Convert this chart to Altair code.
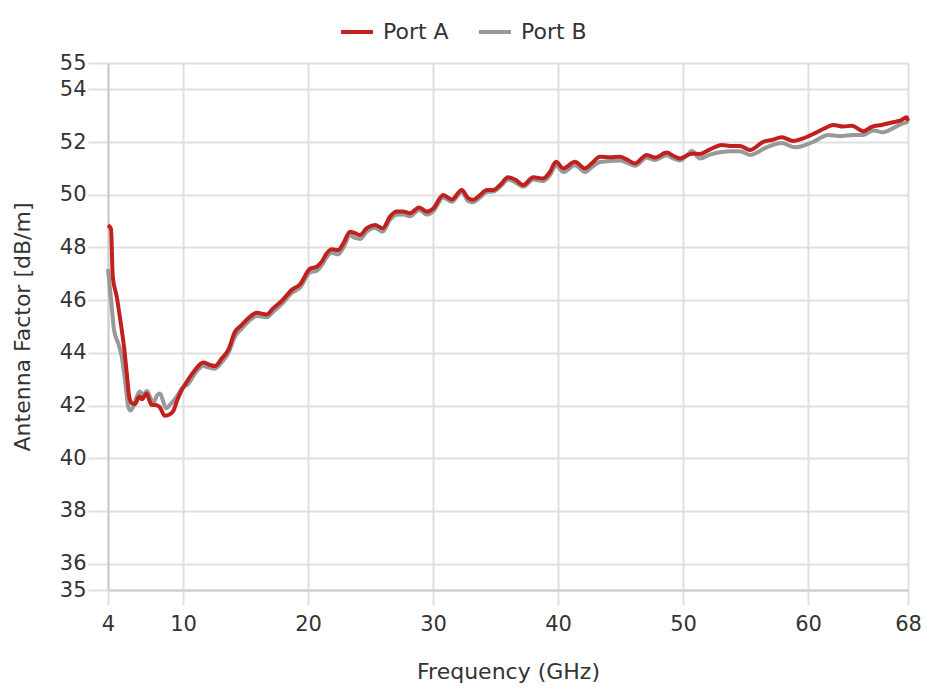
import altair as alt
import pandas as pd

RED = "#c0211f"
GRAY = "#999999"

ports = ["Port A", "Port B"]
x_ticks = [4, 10, 20, 30, 40, 50, 60, 68]
y_ticks = [35, 36, 38, 40, 42, 44, 46, 48, 50, 52, 54, 55]

freq_a = [4.00, 4.24, 4.38, 4.70, 5.02, 5.28, 5.50, 5.70, 5.90, 6.16, 6.50, 6.72, 7.10, 7.30,
          7.50, 7.76, 8.10, 8.56, 8.82, 9.22, 9.54, 9.90, 10.30, 10.96, 11.62, 12.16, 12.56,
          13.10, 13.62, 14.16, 14.70, 15.22, 15.90, 16.70, 17.22, 17.90, 18.70, 19.36, 20.16,
          20.70, 21.10, 21.50, 21.90, 22.42, 22.82, 23.36, 23.76, 24.16, 24.70, 25.36, 25.98,
          26.56, 27.10, 27.62, 28.16, 28.90, 29.50, 30.02, 30.82, 31.50, 32.30, 32.82, 33.22,
          33.76, 34.30, 34.82, 35.36, 36.02, 36.60, 37.22, 38.02, 38.82, 39.36, 39.84, 40.42,
          41.36, 42.16, 42.70, 43.36, 44.16, 44.96, 45.50, 46.16, 47.10, 47.76, 48.70, 49.22,
          49.76, 50.70, 51.36, 52.16, 53.10, 53.90, 54.56, 55.36, 56.42, 57.10, 57.90, 58.82,
          59.62, 60.56, 61.36, 62.02, 62.82, 63.50, 64.42, 65.10, 65.90, 66.70, 67.36, 67.90,
          68.00]
af_a = [48.85, 48.70, 46.90, 46.13, 45.13, 44.23, 43.23, 42.33, 42.09, 42.06, 42.34, 42.24,
        42.46, 42.21, 42.02, 42.02, 41.96, 41.61, 41.64, 41.79, 42.21, 42.59, 42.90, 43.35,
        43.63, 43.54, 43.50, 43.79, 44.11, 44.80, 45.06, 45.31, 45.52, 45.46, 45.69, 45.97,
        46.39, 46.60, 47.19, 47.27, 47.46, 47.78, 47.93, 47.90, 48.15, 48.60, 48.54, 48.47,
        48.73, 48.85, 48.73, 49.17, 49.36, 49.36, 49.30, 49.52, 49.36, 49.48, 49.99, 49.82,
        50.18, 49.87, 49.81, 49.99, 50.18, 50.18, 50.37, 50.66, 50.57, 50.37, 50.66, 50.62,
        50.87, 51.25, 51.00, 51.25, 51.00, 51.19, 51.44, 51.42, 51.44, 51.34, 51.19, 51.51,
        51.41, 51.60, 51.48, 51.38, 51.56, 51.55, 51.72, 51.89, 51.85, 51.85, 51.70, 52.01,
        52.08, 52.18, 52.04, 52.14, 52.34, 52.53, 52.65, 52.59, 52.62, 52.41, 52.58, 52.65,
        52.74, 52.81, 52.94, 52.80]

freq_b = [4.00, 4.30, 4.48, 4.82, 5.10, 5.36, 5.62, 5.80, 6.02, 6.30, 6.56, 6.82, 7.10, 7.36,
          7.62, 7.94, 8.16, 8.42, 8.62, 9.02, 9.50, 9.90, 10.42, 10.96, 11.62, 12.16, 12.56,
          13.10, 13.62, 14.16, 14.70, 15.22, 15.90, 16.70, 17.22, 17.90, 18.70, 19.36, 20.16,
          20.70, 21.10, 21.50, 21.90, 22.42, 22.82, 23.36, 23.76, 24.16, 24.70, 25.36, 25.98,
          26.56, 27.10, 27.62, 28.16, 28.90, 29.50, 30.02, 30.82, 31.50, 32.30, 32.82, 33.22,
          33.76, 34.30, 34.82, 35.36, 36.02, 36.56, 37.22, 38.02, 38.82, 39.36, 39.84, 40.42,
          41.36, 42.16, 42.70, 43.36, 44.16, 44.96, 45.50, 46.16, 47.10, 47.76, 48.70, 49.22,
          49.76, 50.30, 50.70, 51.36, 52.16, 53.10, 53.90, 54.56, 55.36, 56.70, 57.90, 58.96,
          60.42, 61.62, 62.56, 63.62, 64.42, 65.22, 66.02, 66.82, 67.90, 68.00]
af_b = [47.18, 45.75, 44.87, 44.36, 43.85, 42.97, 41.96, 41.81, 41.96, 42.34, 42.53, 42.40,
        42.55, 42.34, 42.09, 42.40, 42.46, 42.15, 41.90, 42.06, 42.34, 42.65, 42.82, 43.22,
        43.50, 43.43, 43.40, 43.65, 43.97, 44.62, 44.92, 45.18, 45.40, 45.35, 45.56, 45.85,
        46.27, 46.48, 47.05, 47.12, 47.32, 47.64, 47.80, 47.74, 47.98, 48.45, 48.36, 48.32,
        48.60, 48.74, 48.60, 49.05, 49.24, 49.25, 49.18, 49.42, 49.25, 49.37, 49.90, 49.73,
        50.10, 49.76, 49.72, 49.90, 50.10, 50.12, 50.30, 50.58, 50.48, 50.30, 50.58, 50.52,
        50.75, 51.12, 50.86, 51.12, 50.86, 51.05, 51.24, 51.28, 51.30, 51.22, 51.10, 51.40,
        51.32, 51.50, 51.38, 51.30, 51.50, 51.66, 51.38, 51.52, 51.62, 51.65, 51.65, 51.51,
        51.80, 51.96, 51.80, 52.01, 52.27, 52.23, 52.27, 52.27, 52.44, 52.37, 52.53, 52.74,
        52.70]

df = pd.concat([
    pd.DataFrame({"freq": freq_a, "af": af_a, "port": ports[0]}),
    pd.DataFrame({"freq": freq_b, "af": af_b, "port": ports[1]}),
])

FONT = "DejaVu Sans"

color = alt.Color(
    "port:N",
    scale=alt.Scale(domain=ports, range=[RED, GRAY]),
    legend=alt.Legend(
        title=None, orient="none", legendX=231, legendY=-49, direction="horizontal",
        symbolType="stroke", symbolSize=1024, symbolStrokeWidth=4,
        labelFontSize=22, labelFont=FONT, labelColor="#333333",
        labelOffset=8, columnPadding=22, padding=0,
    ),
)

x = alt.X(
    "freq:Q",
    scale=alt.Scale(domain=[4, 68], nice=False, zero=False),
    axis=alt.Axis(values=x_ticks, title="Frequency (GHz)", tickSize=15, labelPadding=8,
                  titlePadding=27, labelFlush=False),
)
y = alt.Y(
    "af:Q",
    scale=alt.Scale(domain=[35, 55], nice=False, zero=False),
    axis=alt.Axis(values=y_ticks, title="Antenna Factor [dB/m]", tickSize=20, labelPadding=2,
                  titlePadding=25),
)

base = alt.Chart(df).mark_line(strokeWidth=4, interpolate="monotone").encode(
    x=x, y=y, color=color
)
line_b = base.transform_filter("datum.port == 'Port B'")
line_a = base.transform_filter("datum.port == 'Port A'")

chart = (
    alt.layer(line_b, line_a)
    .properties(
        width=800, height=527,
        autosize=alt.AutoSizeParams(type="none"),
        padding={"left": 100, "top": 55, "right": 14, "bottom": 98},
    )
    .configure_view(strokeWidth=0)
    .configure_axis(
        gridColor="#e0e0e0", gridWidth=2, tickColor="#e0e0e0", tickWidth=2,
        domainColor="#cccccc", domainWidth=2,
        labelFont=FONT, labelFontSize=21, labelColor="#333333",
        titleFont=FONT, titleFontSize=22, titleColor="#333333", titleFontWeight="normal",
    )
)

chart.save("out.html", embed_options={"renderer": "svg", "actions": False})
